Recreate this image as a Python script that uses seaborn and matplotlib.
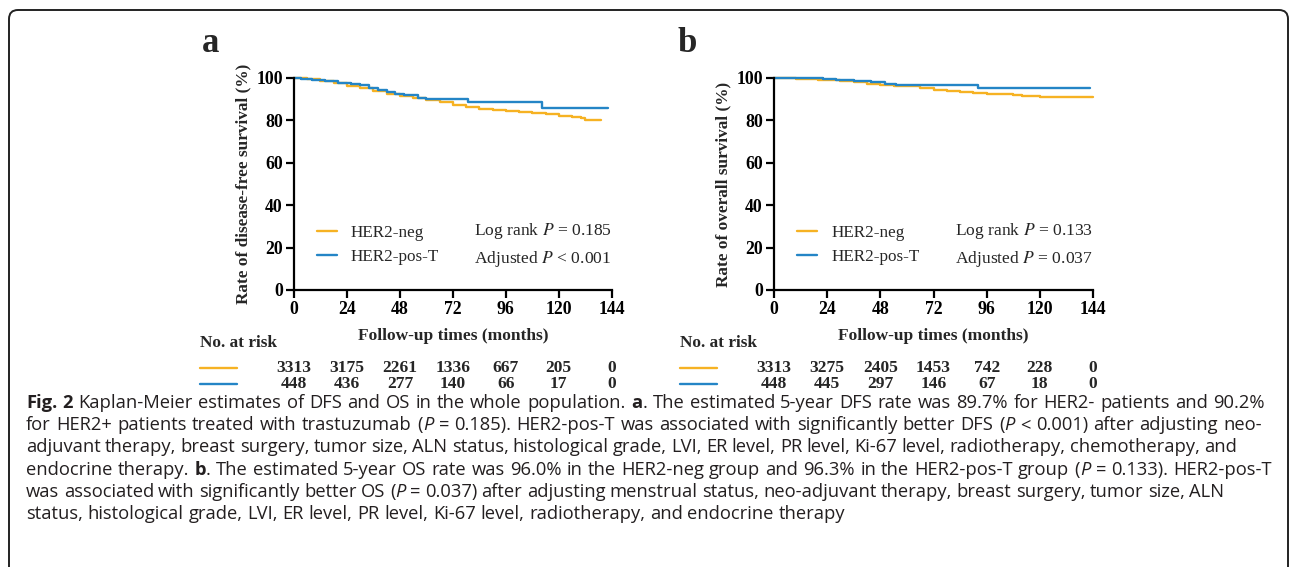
import re
import numpy as np
import pandas as pd
import matplotlib
matplotlib.use("Agg")
import matplotlib.pyplot as plt
import seaborn as sns
from matplotlib.transforms import IdentityTransform
from matplotlib.patches import FancyBboxPatch
from matplotlib.lines import Line2D

# ---- data ----
months = [0, 24, 48, 72, 96, 120, 144]

# panel a: disease-free survival (%)
dfs_neg_t = [0, 6, 12, 18, 24, 30, 36, 42, 48, 54, 60, 66, 72, 78, 84, 90, 96, 102, 108, 114, 120, 126, 130, 132, 139]
dfs_neg_s = [100, 99.4, 98.6, 97.6, 96.3, 95.2, 93.8, 92.4, 91.3, 90.5, 89.7, 88.6, 87.4, 86.2, 85.2, 84.8, 84.4, 84.0, 83.4, 82.9, 82.3, 81.8, 81.0, 80.2, 80.2]
dfs_pos_t = [0, 3, 8, 14, 20, 26, 30, 34, 38, 42, 46, 50, 56, 60, 64, 79, 112.6, 142.5]
dfs_pos_s = [100, 99.6, 98.9, 98.6, 97.8, 97.0, 96.5, 95.5, 94.3, 93.6, 92.6, 91.8, 90.6, 90.2, 89.9, 88.8, 85.7, 85.7]

# panel b: overall survival (%)
os_neg_t = [0, 10, 20, 30, 36, 42, 48, 54, 60, 66, 72, 78, 84, 90, 96, 102, 108, 112, 120, 144]
os_neg_s = [100, 99.7, 99.2, 98.6, 98.1, 97.3, 96.6, 96.2, 96.0, 95.1, 94.5, 93.8, 93.2, 92.9, 92.6, 92.3, 91.8, 91.3, 91.1, 91.1]
os_pos_t = [0, 16, 22, 28, 36, 44, 50, 55, 92, 142.8]
os_pos_s = [100, 99.8, 99.4, 99.2, 98.7, 98.0, 97.4, 96.8, 95.4, 95.4]

risk_dfs_neg = [3313, 3175, 2261, 1336, 667, 205, 0]
risk_dfs_pos = [448, 436, 277, 140, 66, 17, 0]
risk_os_neg = [3313, 3275, 2405, 1453, 742, 228, 0]
risk_os_pos = [448, 445, 297, 146, 67, 18, 0]

groups = ["HER2-neg", "HER2-pos-T"]
colors = ["#F6B223", "#2485C6"]

caption_lines = [
    "**Fig.** **2** Kaplan-Meier estimates of DFS and OS in the whole population. **a**. The estimated 5-year DFS rate was 89.7% for HER2- patients and 90.2%",
    "for HER2+ patients treated with trastuzumab (*P* = 0.185). HER2-pos-T was associated with significantly better DFS (*P* < 0.001) after adjusting neo-",
    "adjuvant therapy, breast surgery, tumor size, ALN status, histological grade, LVI, ER level, PR level, Ki-67 level, radiotherapy, chemotherapy, and",
    "endocrine therapy. **b**. The estimated 5-year OS rate was 96.0% in the HER2-neg group and 96.3% in the HER2-pos-T group (*P* = 0.133). HER2-pos-T",
    "was associated with significantly better OS (*P* = 0.037) after adjusting menstrual status, neo-adjuvant therapy, breast surgery, tumor size, ALN",
    "status, histological grade, LVI, ER level, PR level, Ki-67 level, radiotherapy, and endocrine therapy",
]
caption_right = [1265, 1262, 1237, 1272, 1224, None]

sns.set_style("ticks")
plt.rcParams["font.family"] = ["Liberation Serif", "DejaVu Serif"]

W, H = 1292, 567
fig = plt.figure(figsize=(W / 100, H / 100), dpi=100)


def px_axes(x0, x1, ytop, ybot):
    return fig.add_axes([x0 / W, (H - ybot) / H, (x1 - x0) / W, (ybot - ytop) / H])


panels = [
    dict(ax=px_axes(294, 611.7, 78, 290), letter="a", lx=202,
         ylabel="Rate of disease-free survival (%)",
         curves=[(dfs_neg_t, dfs_neg_s), (dfs_pos_t, dfs_pos_s)],
         risk=[risk_dfs_neg, risk_dfs_pos],
         ptext=["Log rank $P$ = 0.185", "Adjusted $P$ < 0.001"]),
    dict(ax=px_axes(774, 1093, 78, 290), letter="b", lx=677,
         ylabel="Rate of overall survival (%)",
         curves=[(os_neg_t, os_neg_s), (os_pos_t, os_pos_s)],
         risk=[risk_os_neg, risk_os_pos],
         ptext=["Log rank $P$ = 0.133", "Adjusted $P$ = 0.037"]),
]

for p in panels:
    ax = p["ax"]
    for (t, s), g, c in zip(p["curves"], groups, colors):
        df = pd.DataFrame({"month": t, "surv": s})
        sns.lineplot(data=df, x="month", y="surv", ax=ax, color=c, lw=1.7,
                     drawstyle="steps-post", estimator=None, sort=False,
                     label=g, clip_on=False)
    ax.set_xlim(0, 144)
    ax.set_ylim(0, 100)
    ax.set_xticks(months)
    ax.set_yticks([0, 20, 40, 60, 80, 100])
    sns.despine(ax=ax)
    for sp in ["left", "bottom"]:
        ax.spines[sp].set_linewidth(1.6)
        ax.spines[sp].set_color("black")
    ax.tick_params(width=1.6, length=6, labelsize=12.8, pad=2, colors="black")
    for lbl in ax.get_xticklabels() + ax.get_yticklabels():
        lbl.set_fontweight("bold")
    ax.set_ylabel(p["ylabel"], fontsize=12.4, fontweight="bold")
    ax.yaxis.set_label_coords(-0.133, 0.5)
    ax.set_xlabel("Follow-up times (months)", fontsize=12.5, fontweight="bold")
    ax.xaxis.set_label_coords(0.5, -0.18)

    ax.legend(loc="center left", bbox_to_anchor=(0.072, 0.212), frameon=False,
              fontsize=12.3, handlelength=1.2, handletextpad=0.8,
              labelspacing=0.5, borderpad=0, borderaxespad=0)
    for txt, yy in zip(p["ptext"], [0.278, 0.146]):
        ax.text(1.0, yy, txt, transform=ax.transAxes, ha="right", va="center",
                fontsize=12.6, math_fontfamily="stix")

    # number at risk table
    xt = ax.get_xaxis_transform()
    ax.text(-0.296, -0.25, "No. at risk", transform=ax.transAxes, ha="left",
            va="center", fontsize=12.4, fontweight="bold")
    for row, yy, c in zip(p["risk"], [-0.368, -0.443], colors):
        ax.add_line(Line2D([-0.296, -0.179], [yy, yy], transform=ax.transAxes,
                           color=c, lw=1.7, clip_on=False))
        for m, n in zip(months, row):
            ax.text(m, yy, str(n), transform=xt, ha="center", va="center",
                    fontsize=12.6, fontweight="bold")

    fig.text(p["lx"], H - 52, p["letter"], transform=IdentityTransform(),
             fontsize=25, fontweight="bold", va="baseline")

# rounded border round the whole figure
fig.add_artist(FancyBboxPatch((9, -20), 1279, H - 10 + 20,
                              boxstyle="round,pad=0,rounding_size=9",
                              transform=IdentityTransform(), fill=False,
                              ec="#222222", lw=1.4))

# caption, laid out word by word
renderer = fig.canvas.get_renderer()
cap_font = ["Open Sans", "DejaVu Sans"]
cap_size = 13.2


def segments(word):
    out = []
    for part in re.split(r"(\*\*[^*]+\*\*|\*[^*]+\*)", word):
        if not part:
            continue
        if part.startswith("**"):
            out.append((part[2:-2], "normal", "bold"))
        elif part.startswith("*"):
            out.append((part[1:-1], "italic", "normal"))
        else:
            out.append((part, "normal", "normal"))
    return out


for i, (line, right) in enumerate(zip(caption_lines, caption_right)):
    base = H - (408 + 22.2 * i)
    words = []
    for w in line.split(" "):
        arts = []
        for s, style, weight in segments(w):
            t = fig.text(0, base, s, transform=IdentityTransform(), family=cap_font,
                         fontsize=cap_size, style=style, weight=weight,
                         color="#231F20", va="baseline")
            arts.append((t, t.get_window_extent(renderer).width))
        words.append(arts)
    wsum = sum(sum(a[1] for a in arts) for arts in words)
    gap = cap_size * 100 / 72 * 0.26
    if right is not None:
        gap = (right - 26 - wsum) / (len(words) - 1)
    x = 26
    for arts in words:
        for t, wd in arts:
            t.set_x(x)
            x += wd
        x += gap

fig.savefig("out.png", dpi=100)
